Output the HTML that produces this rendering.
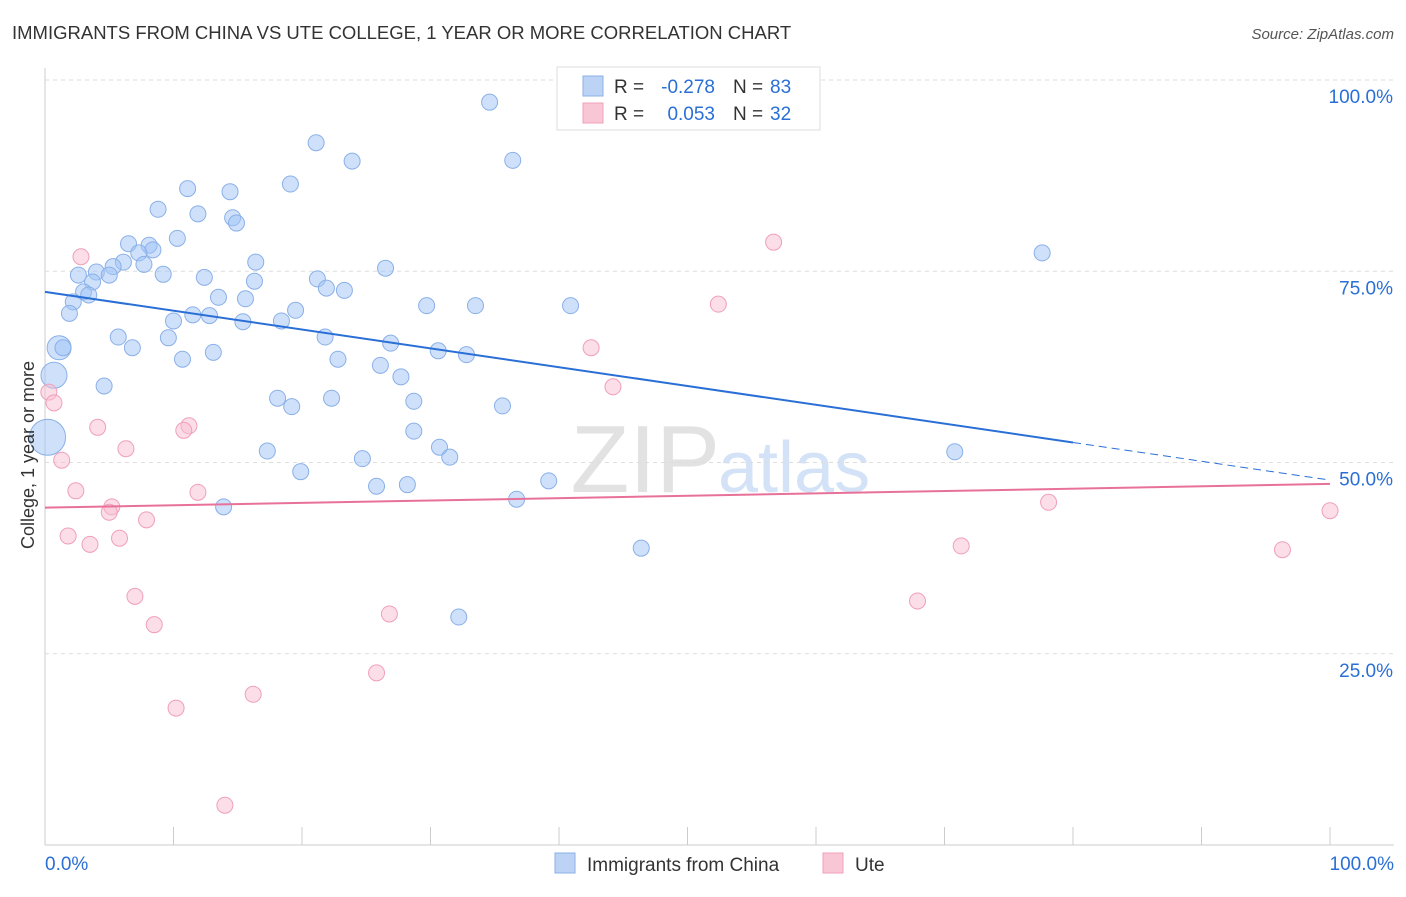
<!DOCTYPE html>
<html><head><meta charset="utf-8"><style>
body{margin:0;background:#fff;font-family:"Liberation Sans",sans-serif;}
svg text{font-family:"Liberation Sans",sans-serif;}
</style></head><body>
<svg id="chart" width="1406" height="892">
<text x="12" y="39" font-size="18.5" fill="#333">IMMIGRANTS FROM CHINA VS UTE COLLEGE, 1 YEAR OR MORE CORRELATION CHART</text>
<text x="1394" y="39" font-size="15" fill="#555" font-style="italic" text-anchor="end">Source: ZipAtlas.com</text>
<text x="720" y="492" font-size="96" fill="#e2e2e2" text-anchor="end" font-family="Liberation Serif">ZIP</text>
<text x="718" y="492" font-size="72" fill="#d3e2f6">atlas</text>
<g id="grid"></g><g id="marks"></g>
<text transform="translate(34,455) rotate(-90)" font-size="18" fill="#333" text-anchor="middle">College, 1 year or more</text>
<g>
<rect x="557" y="67" width="263" height="63" fill="#fff" stroke="#ddd"/>
<rect x="583" y="76" width="20" height="20" fill="#bcd3f5" stroke="#8ab0e8"/>
<rect x="583" y="103" width="20" height="20" fill="#f8c6d5" stroke="#f0a0b8"/>
<text x="614" y="93" font-size="19" fill="#333">R =</text>
<text x="715" y="93" font-size="19" fill="#2a6fd6" text-anchor="end">-0.278</text>
<text x="733" y="93" font-size="19" fill="#333">N =</text>
<text x="770" y="93" font-size="19" fill="#2a6fd6">83</text>
<text x="614" y="120" font-size="19" fill="#333">R =</text>
<text x="715" y="120" font-size="19" fill="#2a6fd6" text-anchor="end">0.053</text>
<text x="733" y="120" font-size="19" fill="#333">N =</text>
<text x="770" y="120" font-size="19" fill="#2a6fd6">32</text>
</g>
<g>
<rect x="555" y="853" width="20" height="20" fill="#bcd3f5" stroke="#8ab0e8"/>
<text x="587" y="871" font-size="19" fill="#333">Immigrants from China</text>
<rect x="823" y="853" width="20" height="20" fill="#f8c6d5" stroke="#f0a0b8"/>
<text x="855" y="871" font-size="19" fill="#333">Ute</text>
</g>
</svg>
<script>
const chinaX=[34.6,21.1,23.9,36.4,11.1,14.4,19.1,8.8,11.9,14.6,14.9,10.3,6.5,8.1,8.4,7.3,6.1,5.3,7.7,16.4,26.5,77.6,4.0,2.6,5.0,9.2,12.4,21.2,16.3,3.7,21.9,23.3,3.0,3.4,13.5,15.6,2.2,29.7,33.5,40.9,19.5,1.9,11.5,12.8,10.0,15.4,18.4,5.7,9.6,21.8,26.9,6.8,1.1,1.4,13.1,30.6,32.8,10.7,22.8,26.1,0.7,27.7,4.6,18.1,22.3,28.7,19.2,35.6,28.7,0.2,30.7,17.3,70.8,31.5,24.7,19.9,39.2,25.8,28.2,36.7,13.9,46.4,32.2];
const chinaY=[97.1,91.8,89.4,89.5,85.8,85.4,86.4,83.1,82.5,82.0,81.3,79.3,78.6,78.4,77.8,77.4,76.2,75.6,75.9,76.2,75.4,77.4,74.9,74.5,74.5,74.6,74.2,74.0,73.7,73.6,72.8,72.5,72.3,71.9,71.6,71.4,71.0,70.5,70.5,70.5,69.9,69.5,69.3,69.2,68.5,68.4,68.5,66.4,66.3,66.4,65.6,65.0,65.0,65.0,64.4,64.6,64.1,63.5,63.5,62.7,61.4,61.2,60.0,58.4,58.4,58.0,57.3,57.4,54.1,53.3,52.0,51.5,51.4,50.7,50.5,48.8,47.6,46.9,47.1,45.2,44.2,38.8,29.8];
const chinaBig={52:12,60:13,69:18};
const uteX=[56.7,52.4,2.8,42.5,44.2,0.3,0.7,4.1,11.2,10.8,6.3,1.3,2.4,11.9,5.2,5.0,7.9,1.8,5.8,3.5,78.1,100,71.3,96.3,67.9,7.0,8.5,26.8,25.8,16.2,10.2,14.0];
const uteY=[78.8,70.7,76.9,65.0,59.9,59.2,57.8,54.6,54.8,54.2,51.8,50.3,46.3,46.1,44.2,43.5,42.5,40.4,40.1,39.3,44.8,43.7,39.1,38.6,31.9,32.5,28.8,30.2,22.5,19.7,17.9,5.2];
const chinaTrend=[72.3,47.7]; const uteTrend=[44.1,47.2];
const yTicks=[25,50,75,100]; const xTickLabels=["0.0%","100.0%"];
const X=v=>45+v*12.85, Y=v=>845-v*7.65;
const NS="http://www.w3.org/2000/svg";
const grid=document.getElementById('grid'), marks=document.getElementById('marks');
function mk(tag,attrs,parent){const e=document.createElementNS(NS,tag);for(const k in attrs)e.setAttribute(k,attrs[k]);parent.appendChild(e);return e;}
let a=mk('line',{x1:45,y1:68,x2:45,y2:845,stroke:'#ccc'},grid);


a=mk('line',{x1:45,y1:845,x2:1394,y2:845,stroke:'#ccc'},grid);


yTicks.forEach(t=>{
 const g=mk('line',{x1:45,y1:Y(t),x2:1394,y2:Y(t),stroke:'#ddd','stroke-dasharray':'4,4'},grid);
 
 
 const l=mk('text',{x:1393,y:Y(t)+23,'font-size':19,fill:'#2a6fd6','text-anchor':'end'},grid);l.textContent=t.toFixed(1)+'%';
 
 
});
for(let i=0;i<=10;i++){const tk=mk('line',{x1:X(i*10),y1:827,x2:X(i*10),y2:845,stroke:'#ccc'},grid);
 
 }
[[0,'start',45],[100,'end',1394]].forEach((d,i)=>{const l=mk('text',{x:d[2],y:870,'font-size':19,fill:'#2a6fd6','text-anchor':d[1]},grid);l.textContent=xTickLabels[i];
 
 });
chinaX.forEach((x,i)=>{const c=mk('circle',{cx:X(x),cy:Y(chinaY[i]),r:chinaBig[i]||8,fill:'rgba(160,195,245,0.5)',stroke:'#8ab0e8','stroke-width':1},marks);
 
 });
uteX.forEach((x,i)=>{const c=mk('circle',{cx:X(x),cy:Y(uteY[i]),r:8,fill:'rgba(248,190,210,0.5)',stroke:'#f0a0b8','stroke-width':1},marks);
 
 });
const bAt=v=>chinaTrend[0]+(chinaTrend[1]-chinaTrend[0])*v/100;
let t=mk('line',{x1:X(0),y1:Y(bAt(0)),x2:X(80),y2:Y(bAt(80)),stroke:'#2a6fd6','stroke-width':2},marks);


t=mk('line',{x1:X(80),y1:Y(bAt(80)),x2:X(100),y2:Y(bAt(100)),stroke:'#2a6fd6','stroke-width':1,'stroke-dasharray':'8,5'},marks);


t=mk('line',{x1:X(0),y1:Y(uteTrend[0]),x2:X(100),y2:Y(uteTrend[1]),stroke:'#e8719a','stroke-width':2},marks);


</script>
</body></html>
